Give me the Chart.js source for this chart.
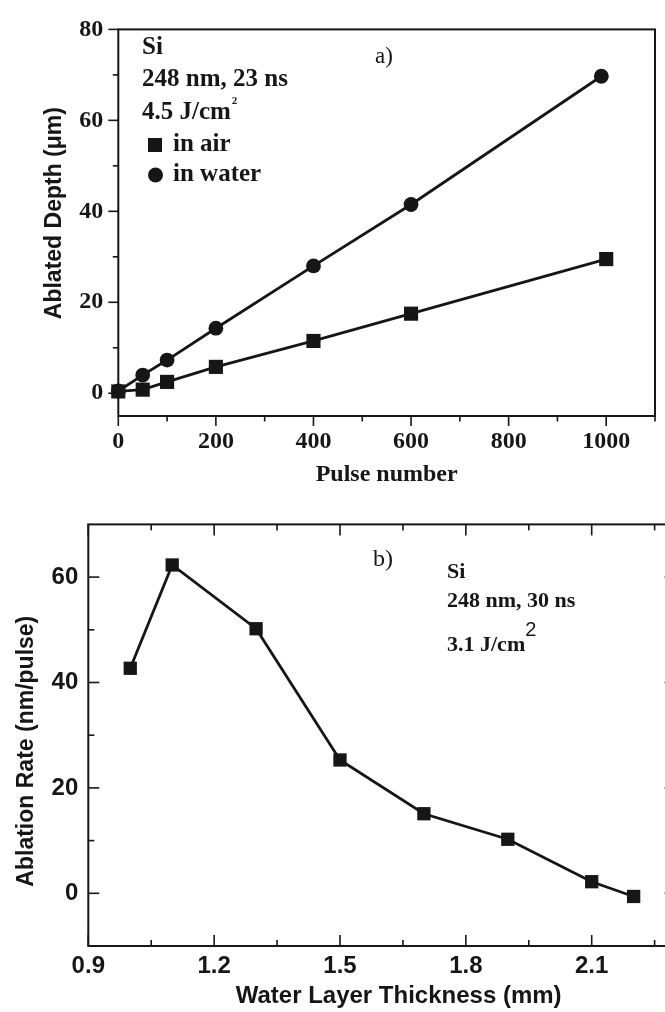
<!DOCTYPE html>
<html>
<head>
<meta charset="utf-8">
<script src="https://cdn.jsdelivr.net/npm/chart.js"></script>
<style>
  html, body { margin: 0; padding: 0; background: #fff; overflow: hidden; width: 665px; height: 1012px; }
  #ca { position: absolute; left: 0; top: 0; }
  #cb { position: absolute; left: 0; top: 500px; }
</style>
</head>
<body>
<canvas id="ca" width="665" height="500"></canvas>
<canvas id="cb" width="690" height="512"></canvas>
<script>
// ---------- Chart a data ----------
const aXTicks = [0, 200, 400, 600, 800, 1000];
const aXMinor = [100, 300, 500, 700, 900, 1100];
const aYTicks = [0, 20, 40, 60, 80];
const aYMinor = [10, 30, 50, 70];
const airPulses = [0, 50, 100, 200, 400, 600, 1000];
const airDepth = [0.4, 0.8, 2.5, 5.8, 11.5, 17.5, 29.5];
const waterPulses = [0, 50, 100, 200, 400, 600, 990];
const waterDepth = [0.5, 4.0, 7.3, 14.3, 28.0, 41.5, 69.7];

// ---------- Chart b data ----------
const bThickness = [1.0, 1.1, 1.3, 1.5, 1.7, 1.9, 2.1, 2.2];
const bRate = [42.7, 62.3, 50.2, 25.3, 15.1, 10.25, 2.2, -0.6];
const bXTicks = [0.9, 1.2, 1.5, 1.8, 2.1];
const bXMinor = [1.05, 1.35, 1.65, 1.95, 2.25];
const bYTicks = [0, 20, 40, 60];
const bYMinor = [10, 30, 50];

const INK = '#161616';
const SERIF = '"Liberation Serif", "Times New Roman", serif';
const SANS = '"Liberation Sans", Arial, sans-serif';

function pts(xs, ys) { return xs.map((v, i) => ({ x: v, y: ys[i] })); }

function framePlugin(cfg) {
  return {
    id: 'frame',
    beforeDatasetsDraw(chart) {
      const { ctx, chartArea: a } = chart;
      const x = chart.scales.x, y = chart.scales.y;
      ctx.save();
      ctx.strokeStyle = INK;
      ctx.lineWidth = 2;
      ctx.strokeRect(a.left, a.top, a.right - a.left, a.bottom - a.top);
      ctx.lineWidth = 1.6;
      const s = cfg.inward ? -1 : 1;
      const seg = (x1, y1, x2, y2) => { ctx.beginPath(); ctx.moveTo(x1, y1); ctx.lineTo(x2, y2); ctx.stroke(); };
      const xt = [[cfg.xMajor, cfg.major], [cfg.xMinor, cfg.minor]];
      const yt = [[cfg.yMajor, cfg.major], [cfg.yMinor, cfg.minor]];
      cfg.sides.forEach(side => {
        const list = (side === 'top' || side === 'bottom') ? xt : yt;
        list.forEach(([vals, len]) => vals.forEach(v => {
          if (side === 'bottom') { const p = x.getPixelForValue(v); seg(p, a.bottom, p, a.bottom + s * len); }
          if (side === 'top') { const p = x.getPixelForValue(v); seg(p, a.top, p, a.top - s * len); }
          if (side === 'left') { const p = y.getPixelForValue(v); seg(a.left, p, a.left - s * len, p); }
          if (side === 'right') { const p = y.getPixelForValue(v); seg(a.right, p, a.right + s * len, p); }
        }));
      });
      ctx.restore();
    }
  };
}

function setTicks(arr) {
  return function (scale) { scale.ticks = arr.map(v => ({ value: v })); };
}

// ---------- Chart a ----------
const annotA = {
  id: 'annotA',
  afterDatasetsDraw(chart) {
    const ctx = chart.ctx;
    ctx.save();
    ctx.fillStyle = INK;
    ctx.textBaseline = 'middle';
    ctx.textAlign = 'left';
    ctx.font = 'bold 25px ' + SERIF;
    ctx.fillText('Si', 142, 48);
    ctx.fillText('248 nm, 23 ns', 142, 80);
    ctx.fillText('4.5 J/cm', 142, 113);
    const w = ctx.measureText('4.5 J/cm').width;
    ctx.font = 'bold 11px ' + SERIF;
    ctx.fillText('2', 142 + w + 1, 101);
    // legend
    ctx.font = 'bold 25px ' + SERIF;
    const ds = chart.data.datasets;
    ctx.fillRect(148, 138, 14, 14);
    ctx.fillText(ds[0].label, 173, 145);
    ctx.beginPath(); ctx.arc(155.5, 175, 7.5, 0, Math.PI * 2); ctx.fill();
    ctx.fillText(ds[1].label, 173, 175);
    ctx.font = '23px ' + SERIF;
    ctx.fillText('a)', 375, 57);
    ctx.restore();
  }
};

new Chart(document.getElementById('ca'), {
  type: 'scatter',
  data: {
    datasets: [
      { label: 'in air', data: pts(airPulses, airDepth), showLine: true, borderColor: INK, borderWidth: 2.8,
        pointStyle: 'rect', pointRadius: 10, pointBackgroundColor: INK, pointBorderColor: INK, pointBorderWidth: 0, clip: false },
      { label: 'in water', data: pts(waterPulses, waterDepth), showLine: true, borderColor: INK, borderWidth: 2.8,
        pointStyle: 'circle', pointRadius: 7.4, pointBackgroundColor: INK, pointBorderColor: INK, pointBorderWidth: 0, clip: false }
    ]
  },
  options: {
    responsive: false, animation: false, devicePixelRatio: 1,
    layout: { padding: { left: 0, top: 20.7, right: 8, bottom: 0 } },
    plugins: { legend: { display: false }, tooltip: { enabled: false } },
    scales: {
      x: {
        type: 'linear', min: 0, max: 1100,
        afterBuildTicks: setTicks(aXTicks),
        afterFit(s) { s.height = 84; },
        grid: { display: false, drawTicks: false },
        border: { display: false },
        ticks: { padding: 11.5, color: INK, font: { family: SERIF, size: 24, weight: 'bold' }, maxRotation: 0, autoSkip: false,
          callback: v => String(v) },
        title: { display: true, text: 'Pulse number', color: INK, padding: { top: 0, bottom: 11 },
          font: { family: SERIF, size: 24, weight: 'bold' } }
      },
      y: {
        type: 'linear', min: -5, max: 80,
        afterBuildTicks: setTicks(aYTicks),
        afterFit(s) { s.width = 118.3; },
        grid: { display: false, drawTicks: false },
        border: { display: false },
        ticks: { padding: 15, color: INK, font: { family: SERIF, size: 24, weight: 'bold' }, callback: v => String(v) },
        title: { display: true, text: '   Ablated Depth (μm)', color: INK, padding: { top: 41, bottom: 0 },
          font: { family: SANS, size: 23, weight: 'bold' } }
      }
    }
  },
  plugins: [framePlugin({ inward: false, sides: ['bottom', 'left'], xMajor: aXTicks, xMinor: aXMinor,
    yMajor: aYTicks, yMinor: aYMinor, major: 10, minor: 5.5 }), annotA]
});

// ---------- Chart b ----------
const annotB = {
  id: 'annotB',
  afterDatasetsDraw(chart) {
    const ctx = chart.ctx;
    ctx.save();
    ctx.fillStyle = INK;
    ctx.textBaseline = 'middle';
    ctx.textAlign = 'left';
    ctx.font = '24px ' + SERIF;
    ctx.fillText('b)', 373, 60);
    ctx.font = 'bold 22px ' + SERIF;
    ctx.fillText('Si', 447, 72);
    ctx.fillText('248 nm, 30 ns', 447, 101);
    ctx.fillText('3.1 J/cm', 447, 145);
    const w = ctx.measureText('3.1 J/cm').width;
    ctx.font = '20px ' + SANS;
    ctx.fillText('2', 447 + w, 130);
    ctx.restore();
  }
};

new Chart(document.getElementById('cb'), {
  type: 'scatter',
  data: {
    datasets: [
      { label: 'Ablation rate', data: pts(bThickness, bRate), showLine: true, borderColor: INK, borderWidth: 2.8,
        pointStyle: 'rect', pointRadius: 9.4, pointBackgroundColor: INK, pointBorderColor: INK, pointBorderWidth: 0, clip: false }
    ]
  },
  options: {
    responsive: false, animation: false, devicePixelRatio: 1,
    layout: { padding: { left: 0, top: 16, right: 14.4, bottom: 0 } },
    plugins: { legend: { display: false }, tooltip: { enabled: false } },
    scales: {
      x: {
        type: 'linear', min: 0.9, max: 2.3,
        afterBuildTicks: setTicks(bXTicks),
        afterFit(s) { s.height = 66; },
        grid: { display: false, drawTicks: false },
        border: { display: false },
        ticks: { padding: 6.3, color: INK, font: { family: SANS, size: 24, weight: 'bold' }, maxRotation: 0, autoSkip: false,
          callback: v => Number(v).toFixed(1) },
        title: { display: true, text: '     Water Layer Thickness (mm)', color: INK, padding: { top: 0, bottom: 1.5 },
          font: { family: SANS, size: 24, weight: 'bold' } }
      },
      y: {
        type: 'linear', min: -10, max: 70,
        afterBuildTicks: setTicks(bYTicks),
        afterFit(s) { s.width = 88.3; },
        grid: { display: false, drawTicks: false },
        border: { display: false },
        ticks: { padding: 10, color: INK, font: { family: SANS, size: 24, weight: 'bold' }, callback: v => String(v) },
        title: { display: true, text: 'Ablation Rate (nm/pulse)     ', color: INK, padding: { top: 12.9, bottom: 0 },
          font: { family: SANS, size: 23, weight: 'bold' } }
      }
    }
  },
  plugins: [framePlugin({ inward: true, sides: ['bottom', 'left', 'top', 'right'], xMajor: bXTicks.concat([2.4]), xMinor: bXMinor,
    yMajor: bYTicks, yMinor: bYMinor, major: 11, minor: 6 }), annotB]
});
</script>
</body>
</html>
